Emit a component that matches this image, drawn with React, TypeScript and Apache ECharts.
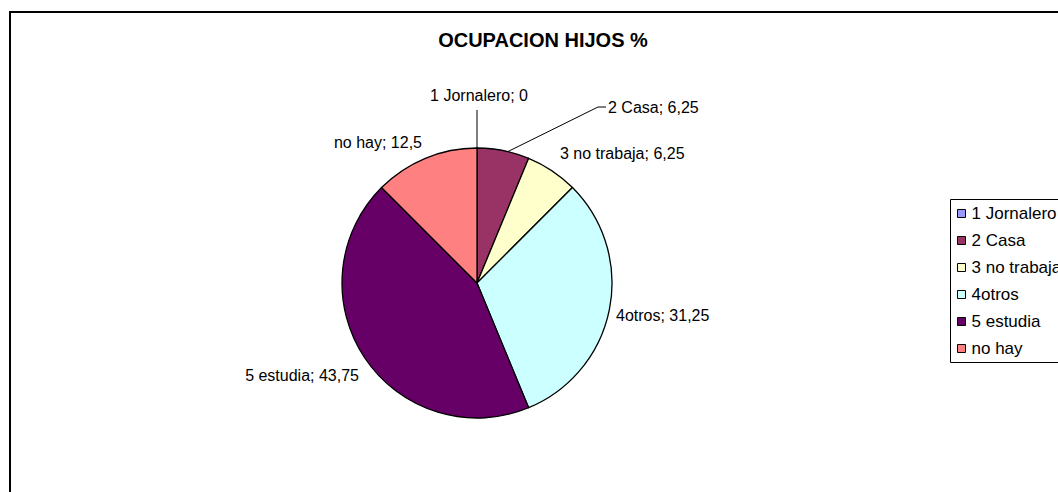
import React, { useEffect, useRef } from "react";
import * as echarts from "echarts";

const categories = ["1 Jornalero", "2 Casa", "3 no trabaja", "4otros", "5 estudia", "no hay"];
const values = [0, 6.25, 6.25, 31.25, 43.75, 12.5];
const colors = ["#9999FF", "#993366", "#FFFFCC", "#CCFFFF", "#660066", "#FF8080"];
const titleText = "OCUPACION HIJOS %";

// label layout offsets relative to pie centre (layout only)
const CX = 477;
const CY = 283;
const R = 135;
const labelPlacement = [
  { dx: 2, dy: -188, align: "center", line: [[0, -R], [0, -173]] },
  { dx: 131, dy: -176, align: "left", line: [[30, -131], [121, -176], [129, -176]] },
  { dx: 83, dy: -130, align: "left", line: null },
  { dx: 139, dy: 32, align: "left", line: null },
  { dx: -118, dy: 92, align: "right", line: null },
  { dx: -55, dy: -141, align: "right", line: null },
];

const FONT = "'Liberation Sans', Arial, sans-serif";

export default function App() {
  const ref = useRef<HTMLDivElement>(null);
  useEffect(() => {
    if (!ref.current) return;
    const chart = echarts.init(ref.current, null, { renderer: "svg" });
    const data = categories.map((name, i) => ({
      name,
      value: values[i],
      itemStyle: { color: colors[i] },
      labelLine: { show: labelPlacement[i].line !== null },
    }));
    chart.setOption({
      animation: false,
      backgroundColor: "#fff",
      title: {
        text: titleText,
        left: 543,
        top: 30,
        textAlign: "center",
        padding: 0,
        textStyle: { fontFamily: FONT, fontSize: 20, fontWeight: "bold", color: "#000" },
      },
      graphic: [
        {
          type: "rect",
          shape: { x: 10, y: 12, width: 1200, height: 700 },
          style: { fill: "none", stroke: "#000", lineWidth: 2 },
          silent: true,
        },
        {
          type: "rect",
          shape: { x: 950.5, y: 199.5, width: 200, height: 163 },
          style: { fill: "#fff", stroke: "#000", lineWidth: 1 },
          silent: true,
          z: 0,
        },
      ],
      legend: {
        orient: "vertical",
        left: 957,
        top: 205,
        padding: 0,
        icon: "rect",
        itemWidth: 8,
        itemHeight: 8,
        itemGap: 10,
        itemStyle: { borderColor: "#000", borderWidth: 1 },
        textStyle: { fontFamily: FONT, fontSize: 17, color: "#000", lineHeight: 17, padding: [0, 0, 0, 1] },
        data: categories,
        z: 5,
      },
      series: [
        {
          type: "pie",
          center: [CX, CY],
          radius: R,
          startAngle: 90,
          clockwise: true,
          minAngle: 0,
          avoidLabelOverlap: false,
          itemStyle: { borderColor: "#000", borderWidth: 1.3 },
          emphasis: { disabled: true },
          label: {
            show: true,
            position: "outside",
            color: "#000",
            fontFamily: FONT,
            fontSize: 16,
            formatter: (p: any) => `${p.name}; ${String(p.value).replace(".", ",")}`,
          },
          labelLine: { show: true, lineStyle: { color: "#000", width: 1 } },
          labelLayout: (params: any) => {
            const lp = labelPlacement[params.dataIndex];
            const out: any = {
              x: CX + lp.dx,
              y: CY + lp.dy,
              align: lp.align,
              verticalAlign: "middle",
            };
            if (lp.line) {
              out.labelLinePoints = lp.line.map((p) => [CX + p[0], CY + p[1]]);
            }
            return out;
          },
          data,
        },
      ],
    });
    return () => chart.dispose();
  }, []);
  return (
    <div
      ref={ref}
      style={{ position: "fixed", left: 0, top: 0, width: 1058, height: 492 }}
    />
  );
}
